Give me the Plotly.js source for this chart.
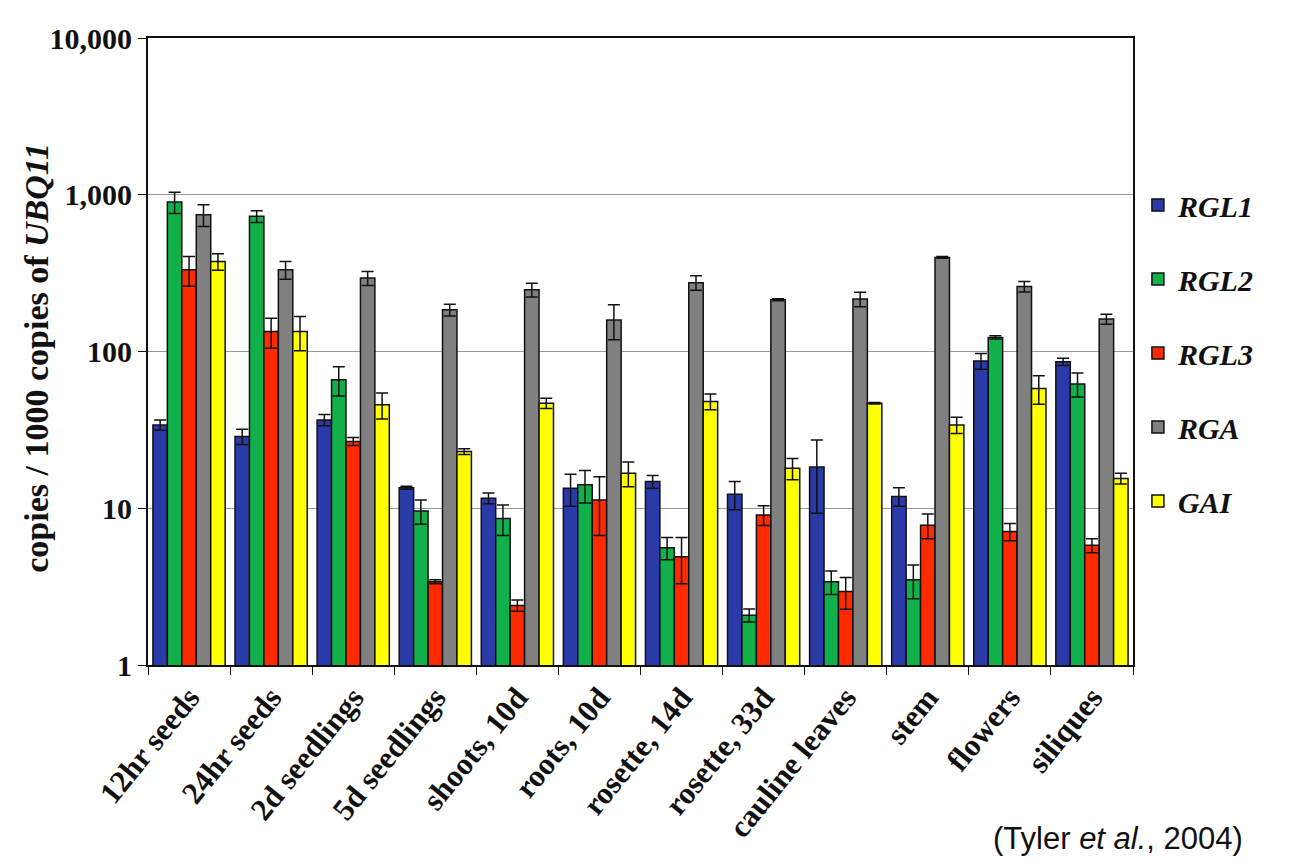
<!DOCTYPE html>
<html>
<head>
<meta charset="utf-8">
<script src="https://cdn.plot.ly/plotly-3.0.1.min.js"></script>
<style>html,body{margin:0;padding:0;background:#fff;}#chart{width:1295px;height:866px;}</style>
</head>
<body>
<div id="chart"></div>
<script>
const categories = ["12hr seeds","24hr seeds","2d seedlings","5d seedlings","shoots, 10d","roots, 10d","rosette, 14d","rosette, 33d","cauline leaves","stem","flowers","siliques"];
const seriesNames = ["RGL1","RGL2","RGL3","RGA","GAI"];
const RGL1 = [34, 28.7, 36.6, 13.5, 11.6, 13.4, 14.8, 12.3, 18.3, 11.9, 87, 86];
const RGL2 = [898, 728, 66, 9.6, 8.6, 14.1, 5.6, 2.08, 3.4, 3.5, 123, 62];
const RGL3 = [332, 134, 26.7, 3.4, 2.4, 11.3, 4.9, 9.06, 2.94, 7.8, 7.1, 5.8];
const RGA  = [745, 332, 294, 184.5, 248, 159, 275, 214, 216, 398, 260, 161];
const GAI  = [375, 134, 45.7, 23, 46.8, 16.7, 48, 18, 46.8, 34, 58, 15.5];
const RGL1_err = [2.6, 3.2, 3, 0.3, 0.9, 3.1, 1.4, 2.5, 9, 1.6, 10, 4.6];
const RGL2_err = [140, 63, 14, 1.7, 1.9, 3.3, 0.9, 0.2, 0.58, 0.85, 3, 10.8];
const RGL3_err = [71, 29, 1.6, 0.1, 0.2, 4.6, 1.6, 1.3, 0.67, 1.4, 0.9, 0.6];
const RGA_err  = [118, 43, 30, 16, 25, 40, 29, 3, 23, 5, 20, 12];
const GAI_err  = [45, 33, 8.6, 1, 3.5, 3, 5.5, 2.8, 0.5, 4, 12, 1.2];
const tickVals = [1, 10, 100, 1000, 10000];
const tickText = ["1", "10", "100", "1,000", "10,000"];

const colors = ["#2a3aa8", "#12b04a", "#ff2a00", "#808080", "#ffff00"];
const values = [RGL1, RGL2, RGL3, RGA, GAI];
const errs = [RGL1_err, RGL2_err, RGL3_err, RGA_err, GAI_err];

const serif = "Liberation Serif, DejaVu Serif, serif";
const traces = seriesNames.map((name, i) => ({
  type: "bar",
  name: "<b><i>" + name + "</i></b>",
  x: categories,
  y: values[i],
  legendgroup: "g" + i,
  marker: {color: colors[i], line: {color: "#111", width: 1.5}},
  error_y: {type: "data", array: errs[i], visible: true, color: "#111", thickness: 1.5, width: 6}
}));

const layout = {
  width: 1295, height: 866,
  paper_bgcolor: "#fff", plot_bgcolor: "#fff",
  margin: {l: 148, r: 162, t: 38, b: 201},
  barmode: "group", bargap: 0.12, bargroupgap: 0,
  font: {family: serif, color: "#111"},
  xaxis: {
    type: "category",
    tickangle: -51,
    tickfont: {family: serif, size: 31, color: "#111", weight: "bold"},
    ticks: "outside", tickson: "boundaries", ticklen: 8, tickcolor: "#111",
    showline: true, linecolor: "#111", linewidth: 2, mirror: true,
    showgrid: false
  },
  yaxis: {
    type: "log", range: [0, 4],
    tickvals: tickVals, ticktext: tickText,
    tickfont: {family: serif, size: 30, color: "#111", weight: "bold"},
    ticks: "outside", ticklen: 8, tickcolor: "#111",
    showline: true, linecolor: "#111", linewidth: 2, mirror: true,
    showgrid: true, gridcolor: "#999", gridwidth: 1
  },
  legend: {
    x: 1.005, xanchor: "left", y: 0.775, yanchor: "top",
    font: {family: serif, size: 30, color: "#111"},
    traceorder: "grouped", tracegroupgap: 32,
    bgcolor: "rgba(0,0,0,0)"
  },
  showlegend: true,
  annotations: [
    {
      text: "<b>copies / 1000 copies of <i>UBQ11</i></b>",
      xref: "paper", yref: "paper", x: -0.1127, y: 0.49, xanchor: "center", yanchor: "middle",
      textangle: -90, showarrow: false,
      font: {family: serif, size: 34, color: "#111"}
    },
    {
      text: "(Tyler <i>et al.</i>, 2004)",
      xref: "paper", yref: "paper", x: 1.114, y: -0.276, xanchor: "right", yanchor: "middle",
      showarrow: false, font: {family: "Liberation Sans, Arial, sans-serif", size: 31, color: "#111"}
    }
  ]
};

Plotly.newPlot("chart", traces, layout, {displayModeBar: false});
</script>
</body>
</html>
